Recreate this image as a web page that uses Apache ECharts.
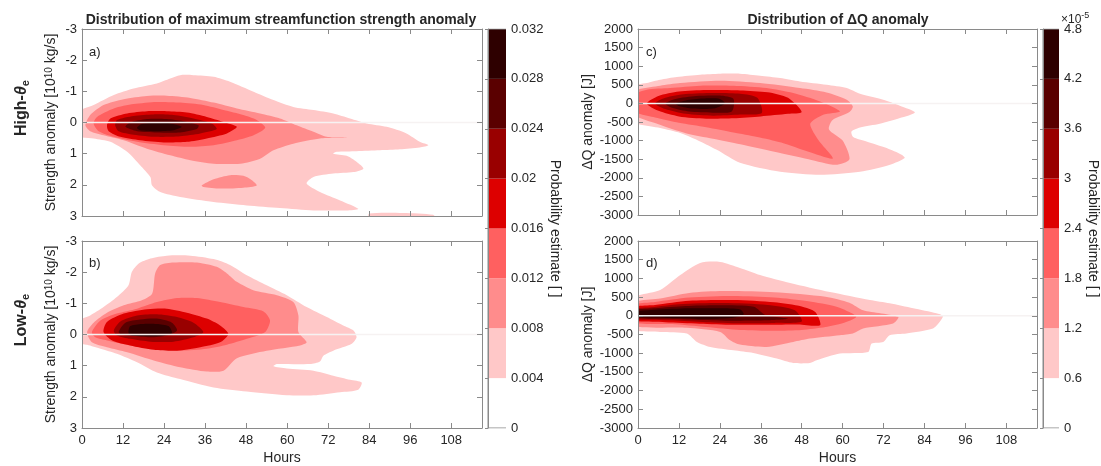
<!DOCTYPE html>
<html><head><meta charset="utf-8">
<script src="https://cdn.jsdelivr.net/npm/echarts@6/dist/echarts.min.js"></script>
<style>html,body{margin:0;padding:0;background:#fff}#c{width:1101px;height:466px}</style>
</head><body><div id="c"></div><script>
// ---------- data ----------
const hourTicks = [0,12,24,36,48,60,72,84,96,108];
const levelColors = ['#ffffff','#ffc8c8','#ff8c8c','#ff6060','#dd0000','#990000','#5a0000','#2e0000'];
const cbLeftLevels = [0,0.004,0.008,0.012,0.016,0.02,0.024,0.028,0.032];
const cbRightLevels = [0,0.6,1.2,1.8,2.4,3,3.6,4.2,4.8];
// white reference line at zero anomaly
const zeroLine = [[0,0],[117,0]];

// panel a (High-theta_e, strength anomaly) contour polygons [hour, value]
const A1 = [[-2,-0.29],[3.4,-0.56],[9.3,-0.88],[15.1,-1.09],[21.9,-1.25],[25.8,-1.41],[28.7,-1.52],[32.6,-1.52],[38.5,-1.47],[43.3,-1.31],[50.2,-0.99],[56,-0.72],[61.8,-0.5],[67.7,-0.4],[73.5,-0.29],[78.4,-0.13],[83.3,0.03],[89.1,0.14],[94.9,0.35],[98.8,0.62],[101.3,0.73],[98.8,0.8],[93,0.86],[87.2,0.89],[80.3,0.92],[74.5,0.94],[73.5,1.0],[77.4,1.07],[80.3,1.26],[82.3,1.48],[79.4,1.59],[73.5,1.64],[67.7,1.75],[65.7,1.96],[69.6,2.23],[75.5,2.5],[80.8,2.77],[77.4,2.82],[67.7,2.82],[57.9,2.74],[48.2,2.66],[38.5,2.55],[28.7,2.39],[22.9,2.23],[20.5,2.02],[20,1.75],[17,1.37],[13.2,0.94],[8.3,0.62],[3.4,0.51],[-2,0.41]];
const A1s = [[84,2.92],[94,2.9],[102.7,2.96],[103.5,3.1],[84,3.1]];
const A2 = [[1,0.09],[2.4,-0.24],[6.3,-0.56],[12.2,-0.75],[19,-0.85],[24.8,-0.86],[31.7,-0.79],[38.5,-0.64],[45.3,-0.45],[52.1,-0.29],[57.9,-0.13],[62.8,0.09],[67.7,0.3],[71.6,0.46],[77.4,0.48],[69.6,0.51],[61.8,0.68],[56,0.89],[52.1,1.16],[46.3,1.32],[38.5,1.32],[31.7,1.21],[25.8,1.05],[19,0.84],[12.2,0.57],[6.3,0.41],[2.4,0.28]];
const A2i = [[35,2.02],[38.5,1.82],[43.3,1.69],[47.2,1.71],[49.7,1.85],[51.1,2.02],[47.2,2.09],[40.4,2.12],[35.5,2.07]];
const A3 = [[3.4,0.03],[4.4,-0.18],[9.3,-0.45],[15.1,-0.59],[21.9,-0.66],[28.7,-0.64],[35.5,-0.56],[41.4,-0.4],[47.2,-0.24],[51.1,-0.08],[53.6,0.17],[50.2,0.41],[45.3,0.57],[38.5,0.73],[31.7,0.78],[23.9,0.73],[16.1,0.62],[9.3,0.46],[4.9,0.28]];
const A4 = [[7.3,0.09],[8.3,-0.13],[13.2,-0.29],[19,-0.36],[24.8,-0.36],[30.7,-0.32],[36.5,-0.18],[41.4,-0.02],[45.3,0.14],[42.4,0.35],[36.5,0.51],[30.7,0.62],[23.9,0.64],[17,0.57],[11.2,0.46],[7.8,0.28]];
const A5 = [[9.7,0.09],[10.2,-0.08],[15.1,-0.21],[20.9,-0.26],[26.8,-0.24],[32.6,-0.13],[38,0.03],[39.4,0.21],[34.6,0.35],[28.7,0.44],[21.9,0.46],[15.1,0.39],[10.7,0.28]];
const A6 = [[12.7,0.14],[14.1,0.0],[19,-0.11],[24.8,-0.11],[29.7,-0.04],[34.1,0.09],[33.6,0.21],[28.7,0.32],[21.9,0.32],[16.1,0.28]];
const A7 = [[16.1,0.17],[17.5,0.05],[21.9,0.01],[25.8,0.03],[29.2,0.14],[26.8,0.25],[21.9,0.28],[17,0.25]];

// panel b (Low-theta_e, strength anomaly)
const B1 = [[-2,-0.38],[2.4,-0.61],[6.3,-0.88],[10.2,-1.2],[13.6,-1.58],[14.6,-2.01],[16.6,-2.28],[20,-2.44],[24.8,-2.53],[31.7,-2.53],[38.5,-2.42],[43.3,-2.23],[48.2,-1.9],[54,-1.58],[59.9,-1.26],[65.7,-0.88],[71.6,-0.56],[76.4,-0.29],[79.4,-0.13],[80.3,0.09],[78.9,0.3],[73.5,0.52],[70.6,0.68],[69.6,0.87],[66.7,0.95],[57,0.95],[56,1.02],[59.9,1.09],[67.7,1.16],[73.5,1.32],[78.4,1.45],[81.8,1.54],[80.8,1.77],[75.5,1.85],[67.7,1.95],[59.9,1.95],[48.2,1.83],[38.5,1.7],[28.7,1.43],[21.9,1.22],[16.1,0.89],[10.2,0.62],[5.4,0.46],[1.5,0.33],[-2,0.25]];
const B2 = [[1.5,-0.08],[3.4,-0.38],[7.3,-0.7],[12.2,-0.94],[17.5,-1.1],[20.5,-1.31],[21.4,-1.96],[22.9,-2.23],[26.8,-2.31],[33.6,-2.31],[39.4,-2.17],[42.4,-1.96],[45.3,-1.69],[50.1,-1.42],[57,-1.26],[61.8,-1.04],[63.3,-0.61],[63.3,-0.08],[65.7,0.25],[63.8,0.35],[54,0.52],[45.3,0.76],[41.4,1.16],[36.5,1.19],[28.7,1.05],[21.2,0.84],[13.2,0.57],[7.3,0.41],[2.9,0.25]];
const B3 = [[2.9,-0.08],[5.4,-0.45],[10.2,-0.67],[16.1,-0.83],[21.9,-1.04],[27.8,-1.17],[33.6,-1.17],[40.4,-1.04],[47.2,-0.88],[53.1,-0.74],[55,-0.45],[53.6,-0.08],[48.2,0.14],[42.4,0.33],[36.5,0.46],[28.7,0.52],[21,0.46],[14.1,0.35],[7.3,0.19],[3.9,0.09]];
const B4 = [[6.3,-0.08],[7.3,-0.4],[12.2,-0.67],[19,-0.81],[24.8,-0.83],[30.7,-0.7],[36.5,-0.51],[40.4,-0.29],[42.8,-0.02],[40.4,0.25],[34.6,0.41],[27.8,0.52],[21,0.49],[14.1,0.35],[8.8,0.19]];
const B5 = [[9.3,-0.13],[11.2,-0.42],[16.1,-0.61],[21.9,-0.65],[27.8,-0.56],[32.6,-0.38],[35.5,-0.08],[32.6,0.09],[26.8,0.23],[20,0.23],[14.1,0.14],[10.2,0.03]];
const B6 = [[10.7,-0.08],[12.7,-0.38],[17,-0.48],[21.9,-0.51],[26.3,-0.38],[27.8,-0.13],[24.8,0.03],[20,0.09],[15.1,0.05],[11.7,0.01]];
const B7 = [[13.6,-0.05],[14.1,-0.27],[17.5,-0.34],[21.9,-0.34],[25.3,-0.27],[26.3,-0.05],[23.4,0.03],[18,0.05],[14.6,0.03]];

// panel c (High-theta_e, Delta Q anomaly)
const C1 = [[-2,441],[2.6,548],[6.5,637],[11.4,710],[18.2,771],[24.1,798],[29.9,798],[35.8,745],[41.7,683],[47.5,591],[55.3,503],[61.2,414],[65.1,261],[71.9,99],[76.8,-62],[81.2,-242],[76.8,-392],[70.9,-546],[65.1,-645],[62.6,-753],[63.1,-903],[67,-1021],[72.9,-1199],[77.3,-1379],[78.2,-1468],[73.9,-1648],[65.1,-1836],[53.4,-1917],[41.7,-1836],[29.9,-1594],[23.1,-1245],[18.2,-1021],[12.4,-796],[6.5,-662],[-2,-457]];
const C2 = [[-2,296],[6.5,476],[12.4,548],[24.1,610],[35.8,548],[47.5,414],[55.3,296],[61.2,99],[63,-81],[62,-230],[57,-450],[56,-700],[60,-1000],[62,-1500],[58,-1650],[50,-1500],[40,-1300],[30,-1100],[22,-950],[14,-800],[6,-560],[-2,-258]];
const C3 = [[-2,188],[2.6,367],[9.4,414],[18.2,476],[28,476],[37.7,414],[45.5,280],[53.4,54],[59.2,-215],[54.3,-304],[50.5,-550],[53,-1000],[57.1,-1480],[50,-1300],[42,-1050],[35,-900],[28,-780],[20,-640],[12,-520],[5,-380],[-2,-190]];
const C4 = [[2.6,0],[6,200],[12,320],[20,360],[30,350],[38,300],[44,150],[48,-231],[44,-280],[36,-350],[28,-400],[20,-410],[12,-350],[6,-200]];
const C5 = [[5,0],[8,150],[14,250],[22,280],[30,260],[35,150],[36.3,-258],[30,-300],[22,-330],[14,-280],[8,-150]];
const C6 = [[8,0],[11,120],[17,200],[24,210],[28,120],[27.5,-215],[22,-250],[15,-220],[10,-120]];
const C7 = [[11,0],[14,80],[19,130],[24,120],[25.5,0],[22,-140],[16,-140],[12,-70]];

// panel d (Low-theta_e, Delta Q anomaly)
const D1 = [[-2,450],[6.5,688],[12.4,1091],[18.2,1414],[24.1,1441],[29.9,1280],[35.8,1091],[44.6,876],[56.3,634],[68,422],[73.8,333],[80.7,199],[87.5,65],[89.4,-8],[88.5,-161],[86.5,-339],[78.7,-473],[73.8,-519],[71.9,-699],[68.5,-742],[67.5,-967],[59.2,-1011],[52.4,-1191],[50.4,-1263],[45.5,-1263],[40.7,-1145],[33.8,-995],[28,-922],[21.2,-833],[17.3,-699],[14.3,-473],[6.5,-430],[-2,-339]];
const D2 = [[-2,330],[6.5,460],[15,610],[25,660],[40,630],[55,510],[62,350],[66,150],[76.3,-27],[74.8,-205],[66,-339],[63,-473],[59.2,-519],[50.4,-608],[45.5,-699],[37.7,-833],[29.9,-770],[27,-653],[24.1,-430],[14.3,-320],[-2,-250]];
const D3 = [[-2,270],[5,370],[15,490],[28,530],[40,490],[50,390],[58,250],[62,100],[64,-30],[60,-200],[55,-300],[48,-380],[40,-400],[30,-380],[20,-300],[10,-220],[-2,-170]];
const D4 = [[-2,220],[5,290],[15,400],[28,420],[40,360],[48,250],[52,100],[53.4,-250],[47,-230],[38,-240],[28,-240],[18,-210],[8,-170],[-2,-110]];
const D5 = [[-2,180],[4,230],[12,310],[25,340],[38,290],[46,150],[48,-150],[40,-190],[30,-200],[20,-170],[10,-120],[-2,-70]];
const D6 = [[-2,140],[5,200],[14,260],[24,280],[34,240],[37.3,20],[44,-80],[38,-120],[28,-130],[18,-110],[8,-80],[-2,-40]];
const D7 = [[-2,100],[5,160],[15,200],[24,200],[30,170],[31,40],[28,-50],[20,-80],[10,-60],[-2,-15]];

// ---------- chart ----------
const FONT = '"Liberation Sans", Arial, Helvetica, sans-serif';
const TXT = '#262626';
const FRAME = '#8a8a8a';

const panels = [
  {polys:[[A1,1],[A1s,1],[A2,2],[A2i,2],[A3,3],[A4,4],[A5,5],[A6,6],[A7,7]], ymin:-3, ymax:3, yint:1, inverse:true, xlabels:false},
  {polys:[[B1,1],[B2,2],[B3,3],[B4,4],[B5,5],[B6,6],[B7,7]], ymin:-3, ymax:3, yint:1, inverse:true, xlabels:true},
  {polys:[[C1,1],[C2,2],[C3,3],[C4,4],[C5,5],[C6,6],[C7,7]], ymin:-3000, ymax:2000, yint:500, inverse:false, xlabels:false},
  {polys:[[D1,1],[D2,2],[D3,3],[D4,4],[D5,5],[D6,6],[D7,7]], ymin:-3000, ymax:2000, yint:500, inverse:false, xlabels:true}
];

const grids = [
  {left:82, top:29, width:400, height:187},
  {left:82, top:241, width:400, height:187},
  {left:638, top:29, width:399, height:186},
  {left:638, top:241, width:399, height:187},
  {left:488, top:29, width:18, height:399},
  {left:1043, top:29, width:19, height:399}
];

const xAxes = [], yAxes = [], series = [];
const axLine = {show:true, onZero:false, lineStyle:{color:FRAME, width:1}};
const tick = {show:true, inside:true, length:5, lineStyle:{color:FRAME, width:1}};

panels.forEach((p, i) => {
  ['bottom','top'].forEach((pos, k) => {
    const ax = {type:'value', gridIndex:i, position:pos, min:0, max:117, interval:12, z:10,
      axisLine:axLine, axisTick:Object.assign({customValues:hourTicks}, tick), splitLine:{show:false},
      axisLabel:{show: k===0 && p.xlabels, customValues:hourTicks, color:TXT, fontSize:13, fontFamily:FONT, margin:6}};
    if (k===0 && p.xlabels) { ax.name='Hours'; ax.nameLocation='middle'; ax.nameGap=23; ax.nameTextStyle={color:TXT, fontSize:14, fontFamily:FONT}; }
    xAxes.push(ax);
  });
  ['left','right'].forEach((pos, k) => {
    const ax = {type:'value', gridIndex:i, position:pos, min:p.ymin, max:p.ymax, interval:p.yint, inverse:p.inverse, z:10,
      axisLine:axLine, axisTick:tick, splitLine:{show:false},
      axisLabel:{show:k===0, color:TXT, fontSize:13, fontFamily:FONT, margin:5, formatter: v => String(v)}};
    if (k===0) {
      ax.nameLocation='middle'; ax.nameRotate=90;
      if (i<2) {
        ax.name='Strength anomaly [10{sup|10} kg/s]'; ax.nameGap=17;
      } else {
        ax.name='\u0394Q anomaly [J]'; ax.nameGap=43;
      }
      ax.nameTextStyle={color:TXT, fontSize:14, fontFamily:FONT,
        rich:{sup:{fontSize:10, fontFamily:FONT, color:TXT, verticalAlign:'top', lineHeight:14, padding:[0,0,7,0]}}};
    }
    yAxes.push(ax);
  });
  series.push({
    type:'custom', xAxisIndex:2*i, yAxisIndex:2*i, clip:true, silent:true, z:2,
    data: p.polys.map((q, j) => [q[0][0][0], q[0][0][1], j]),
    renderItem: function(params, api){
      const q = p.polys[params.dataIndex];
      const pts = q[0].map(pt => api.coord(pt));
      return {type:'polygon', shape:{points:pts, smooth:0.25}, style:{fill:levelColors[q[1]], stroke:null}};
    }
  });
  series.push({type:'line', xAxisIndex:2*i, yAxisIndex:2*i, data:zeroLine, symbol:'none', silent:true, z:5,
    lineStyle:{color:'#f6f2f2', width:1.5}});
});

// colorbars
[[4, cbLeftLevels], [5, cbRightLevels]].forEach(([g, lv], k) => {
  xAxes.push({type:'value', gridIndex:g, min:0, max:1, show:false});
  const top = lv[lv.length-1];
  yAxes.push({type:'value', gridIndex:g, position:'right', min:0, max:top, interval:lv[1], z:10,
    axisLine:{show:true, lineStyle:{color:FRAME}}, axisTick:{show:true, inside:true, length:3, lineStyle:{color:FRAME}},
    splitLine:{show:false},
    axisLabel:{color:TXT, fontSize:13, fontFamily:FONT, margin:5,
      formatter: v => (Math.round(v*1000)/1000).toString()},
    name:'Probability estimate [ ]', nameLocation:'middle', nameRotate:-90, nameGap: k===0 ? 38 : 26,
    nameTextStyle:{color:TXT, fontSize:14, fontFamily:FONT}
  });
  const bands = lv.slice(0,-1).map((v, j) => [v, lv[j+1], j]);
  series.push({type:'custom', xAxisIndex:8+k, yAxisIndex:8+k, silent:true, z:2,
    data: bands,
    renderItem: function(params, api){
      const b = bands[params.dataIndex];
      const p0 = api.coord([0, b[1]]), p1 = api.coord([1, b[0]]);
      return {type:'rect', shape:{x:p0[0], y:p0[1], width:p1[0]-p0[0], height:p1[1]-p0[1]},
        style:{fill:levelColors[b[2]], stroke:null}};
    }});
  series.push({type:'line', xAxisIndex:8+k, yAxisIndex:8+k, data:[[0,0],[0,top]], symbol:'none', silent:true, z:6,
    lineStyle:{color:FRAME, width:1}});
  series.push({type:'line', xAxisIndex:8+k, yAxisIndex:8+k, data:[[0,top],[1,top]], symbol:'none', silent:true, z:6,
    lineStyle:{color:FRAME, width:1}});
  series.push({type:'line', xAxisIndex:8+k, yAxisIndex:8+k, data:[[0,0],[1,0]], symbol:'none', silent:true, z:6,
    lineStyle:{color:FRAME, width:1}});
});

const txt = (x, y, text, extra) => ({type:'text', x, y, z:20, style:Object.assign({text, fill:TXT, font:'13px '+FONT}, extra||{})});
const rowRich = {b:{font:'bold 16px '+FONT, fill:TXT}, t:{font:'italic bold 16px '+FONT, fill:TXT}, s:{font:'bold 11px '+FONT, fill:TXT, padding:[8,0,0,0]}};
const graphic = [
  txt(281, 20, 'Distribution of maximum streamfunction strength anomaly', {font:'bold 14px '+FONT, align:'center', verticalAlign:'middle'}),
  txt(838, 20, 'Distribution of \u0394Q anomaly', {font:'bold 14px '+FONT, align:'center', verticalAlign:'middle'}),
  txt(89, 46, 'a)'), txt(89, 257, 'b)'), txt(646, 46, 'c)'), txt(646, 257, 'd)'),
  {type:'text', x:22, y:108, rotation:Math.PI/2, z:20, style:{text:'{b|High-}{t|\u03b8}{s|e}', align:'center', verticalAlign:'middle', fill:TXT, rich:rowRich}},
  {type:'text', x:22, y:320, rotation:Math.PI/2, z:20, style:{text:'{b|Low-}{t|\u03b8}{s|e}', align:'center', verticalAlign:'middle', fill:TXT, rich:rowRich}},
  {type:'text', x:1061, y:20, z:20, style:{text:'\u00d710{s|-5}', align:'left', verticalAlign:'middle', fill:TXT, font:'12px '+FONT,
    rich:{s:{font:'9px '+FONT, fill:TXT, padding:[0,0,8,0]}}}}
];

const chart = echarts.init(document.getElementById('c'), null, {renderer:'canvas'});
chart.setOption({animation:false, backgroundColor:'#ffffff', grid:grids, xAxis:xAxes, yAxis:yAxes, series, graphic});
</script></body></html>
